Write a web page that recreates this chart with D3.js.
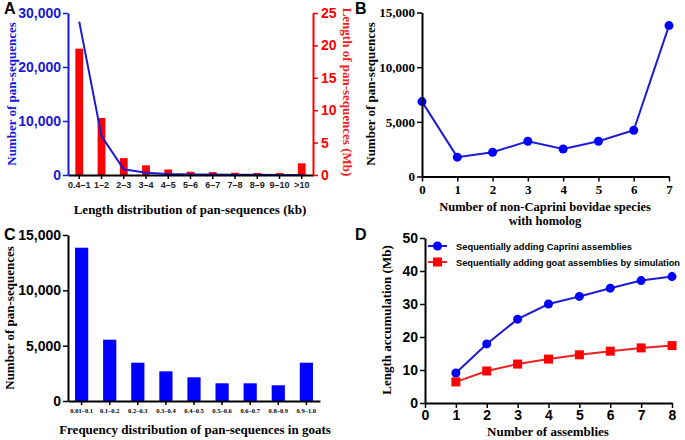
<!DOCTYPE html>
<html>
<head>
<meta charset="utf-8">
<script src="https://cdn.jsdelivr.net/npm/d3@7"></script>
<style>
  body { margin: 0; background: #fff; }
  .sans { font-family: "Liberation Sans", Arial, sans-serif; font-weight: bold; }
  .serif { font-family: "Liberation Serif", "Times New Roman", serif; font-weight: bold; }
</style>
</head>
<body>
<div id="chart"></div>
<script>
// ---- data ----
// panel A
var lenBins = ["0.4–1", "1–2", "2–3", "3–4", "4–5", "5–6", "6–7", "7–8", "8–9", "9–10", ">10"];
var lenCount = [28400, 7200, 1050, 430, 200, 110, 70, 45, 30, 20, 20];
var lenMb = [19.5, 8.8, 2.6, 1.5, 0.85, 0.5, 0.45, 0.35, 0.32, 0.3, 1.8];
// panel B
var speciesN = [0, 1, 2, 3, 4, 5, 6, 7];
var speciesCount = [6850, 1770, 2220, 3220, 2520, 3220, 4230, 13800];
// panel C
var freqBins = ["0.01–0.1", "0.1–0.2", "0.2–0.3", "0.3–0.4", "0.4–0.5", "0.5–0.6", "0.6–0.7", "0.8–0.9", "0.9–1.0"];
var freqCount = [13850, 5540, 3460, 2680, 2140, 1600, 1600, 1420, 3460];
// panel D
var assemblies = [1, 2, 3, 4, 5, 6, 7, 8];
var capriniMb = [9.1, 17.9, 25.4, 30.0, 32.3, 34.8, 37.1, 38.3];
var goatSimMb = [6.4, 9.7, 11.8, 13.3, 14.6, 15.7, 16.7, 17.4];

var blue = "#0000ff", lineBlue = "#1c1cd2", red = "#ff0000";

var svg = d3.select("#chart").append("svg")
    .attr("width", 685)
    .attr("height", 440);

// style an axis group GraphPad-like
function styleAxis(g, color, fontClass, fontSize) {
    g.select(".domain").attr("stroke", color).attr("stroke-width", 2);
    g.selectAll(".tick line").attr("stroke", color).attr("stroke-width", 1.5);
    g.selectAll(".tick text")
        .attr("class", fontClass)
        .attr("fill", color)
        .style("font-size", fontSize + "px");
}

function panelLetter(x, y, t) {
    svg.append("text").attr("class", "sans")
        .attr("x", x).attr("y", y)
        .style("font-size", "16px")
        .text(t);
}

function yTitle(x, y, t, color, size, rot) {
    svg.append("text").attr("class", "serif")
        .attr("transform", "translate(" + x + "," + y + ")rotate(" + (rot || -90) + ")")
        .attr("text-anchor", "middle")
        .attr("fill", color)
        .style("font-size", size + "px")
        .text(t);
}

function xTitle(x, y, t, size) {
    svg.append("text").attr("class", "serif")
        .attr("x", x).attr("y", y)
        .attr("text-anchor", "middle")
        .style("font-size", size + "px")
        .text(t);
}

var fmt = d3.format(",");

// ================= Panel A =================
var aL = 68, aR = 313, aT = 13, aB = 175;
var ax = d3.scaleBand().domain(lenBins).range([aL, aR]).paddingInner(0.65).paddingOuter(0.33);
var ayL = d3.scaleLinear().domain([0, 30000]).range([aB, aT]);
var ayR = d3.scaleLinear().domain([0, 25]).range([aB, aT]);

svg.append("g").selectAll("rect")
    .data(lenMb)
    .join("rect")
    .attr("x", function(d, i) { return ax(lenBins[i]); })
    .attr("width", ax.bandwidth())
    .attr("y", function(d) { return ayR(d); })
    .attr("height", function(d) { return aB - ayR(d); })
    .attr("fill", red);

svg.append("path")
    .datum(lenCount)
    .attr("fill", "none")
    .attr("stroke", lineBlue)
    .attr("stroke-width", 2)
    .attr("d", d3.line()
        .x(function(d, i) { return ax(lenBins[i]) + ax.bandwidth() / 2; })
        .y(function(d) { return ayL(d); }));

var gax = svg.append("g").attr("transform", "translate(0," + aB + ")")
    .call(d3.axisBottom(ax).tickSize(4).tickSizeOuter(0).tickPadding(3));
styleAxis(gax, "#000", "sans", 9);
gax.selectAll(".tick text").attr("fill", "#222");

var gayL = svg.append("g").attr("transform", "translate(" + aL + ",0)")
    .call(d3.axisLeft(ayL).tickValues([0, 10000, 20000, 30000]).tickFormat(fmt).tickSize(5).tickSizeOuter(0).tickPadding(2));
styleAxis(gayL, "#1818d8", "sans", 14);

var gayR = svg.append("g").attr("transform", "translate(" + aR + ",0)")
    .call(d3.axisRight(ayR).tickValues([0, 5, 10, 15, 20, 25]).tickSize(5).tickSizeOuter(0).tickPadding(3));
styleAxis(gayR, red, "sans", 14);

panelLetter(4, 14, "A");
yTitle(16, 94, "Number of pan-sequences", "#1818d8", 13);
yTitle(343, 92, "Length of pan-sequences (Mb)", "#ee2020", 13, 90);
xTitle(190, 214, "Length distribution of pan-sequences (kb)", 13);

// ================= Panel B =================
var bL = 422, bR = 669, bT = 12.5, bB = 176.5;
var bx = d3.scaleLinear().domain([0, 7]).range([bL, bR]);
var by = d3.scaleLinear().domain([0, 15000]).range([bB, bT]);

svg.append("path")
    .datum(speciesCount)
    .attr("fill", "none")
    .attr("stroke", lineBlue)
    .attr("stroke-width", 2)
    .attr("d", d3.line()
        .x(function(d, i) { return bx(speciesN[i]); })
        .y(function(d) { return by(d); }));

svg.append("g").selectAll("circle")
    .data(speciesCount)
    .join("circle")
    .attr("cx", function(d, i) { return bx(speciesN[i]); })
    .attr("cy", function(d) { return by(d); })
    .attr("r", 4.5)
    .attr("fill", blue);

var gbx = svg.append("g").attr("transform", "translate(0," + bB + ")")
    .call(d3.axisBottom(bx).tickValues(speciesN).tickFormat(d3.format("d")).tickSize(5).tickSizeOuter(0).tickPadding(3));
styleAxis(gbx, "#000", "serif", 13);

var gby = svg.append("g").attr("transform", "translate(" + bL + ",0)")
    .call(d3.axisLeft(by).tickValues([0, 5000, 10000, 15000]).tickFormat(fmt).tickSize(5).tickSizeOuter(0).tickPadding(2));
styleAxis(gby, "#000", "serif", 13);

panelLetter(355, 14, "B");
yTitle(375, 94, "Number of pan-sequences", "#000", 13);
xTitle(545, 211, "Number of non-Caprini bovidae species", 12.5);
xTitle(545, 225, "with homolog", 12.5);

// ================= Panel C =================
var cL = 68, cR = 320, cT = 235, cB = 401;
var cx = d3.scaleBand().domain(freqBins).range([cL, cR]).paddingInner(0.53).paddingOuter(0.25);
var cy = d3.scaleLinear().domain([0, 15000]).range([cB, cT]);

svg.append("g").selectAll("rect")
    .data(freqCount)
    .join("rect")
    .attr("x", function(d, i) { return cx(freqBins[i]); })
    .attr("width", cx.bandwidth())
    .attr("y", function(d) { return cy(d); })
    .attr("height", function(d) { return cB - cy(d); })
    .attr("fill", blue);

var gcx = svg.append("g").attr("transform", "translate(0," + cB + ")")
    .call(d3.axisBottom(cx).tickSize(4).tickSizeOuter(0).tickPadding(3));
styleAxis(gcx, "#000", "serif", 6.5);

var gcy = svg.append("g").attr("transform", "translate(" + cL + ",0)")
    .call(d3.axisLeft(cy).tickValues([0, 5000, 10000, 15000]).tickFormat(fmt).tickSize(5).tickSizeOuter(0).tickPadding(2));
styleAxis(gcy, "#000", "sans", 14);

panelLetter(4, 240, "C");
yTitle(14, 318, "Number of pan-sequences", "#000", 13);
xTitle(195, 434, "Frequency distribution of pan-sequences in goats", 13);

// ================= Panel D =================
var dL = 425, dR = 672, dT = 238, dB = 403;
var dx = d3.scaleLinear().domain([0, 8]).range([dL, dR]);
var dy = d3.scaleLinear().domain([0, 50]).range([dB, dT]);

var dLine = d3.line()
    .x(function(d, i) { return dx(assemblies[i]); })
    .y(function(d) { return dy(d); });

svg.append("path").datum(capriniMb)
    .attr("fill", "none").attr("stroke", lineBlue).attr("stroke-width", 2)
    .attr("d", dLine);
svg.append("g").selectAll("circle")
    .data(capriniMb)
    .join("circle")
    .attr("cx", function(d, i) { return dx(assemblies[i]); })
    .attr("cy", function(d) { return dy(d); })
    .attr("r", 4.5)
    .attr("fill", blue);

svg.append("path").datum(goatSimMb)
    .attr("fill", "none").attr("stroke", "#f02020").attr("stroke-width", 2)
    .attr("d", dLine);
svg.append("g").selectAll("rect")
    .data(goatSimMb)
    .join("rect")
    .attr("x", function(d, i) { return dx(assemblies[i]) - 4.5; })
    .attr("y", function(d) { return dy(d) - 4.5; })
    .attr("width", 9)
    .attr("height", 9)
    .attr("fill", red);

var gdx = svg.append("g").attr("transform", "translate(0," + dB + ")")
    .call(d3.axisBottom(dx).tickValues([0, 1, 2, 3, 4, 5, 6, 7, 8]).tickSize(5).tickSizeOuter(0).tickPadding(2));
styleAxis(gdx, "#000", "sans", 14);

var gdy = svg.append("g").attr("transform", "translate(" + dL + ",0)")
    .call(d3.axisLeft(dy).tickValues([0, 10, 20, 30, 40, 50]).tickSize(5).tickSizeOuter(0).tickPadding(2));
styleAxis(gdy, "#000", "sans", 14);

// legend
var legend = svg.append("g");
legend.append("line").attr("x1", 428).attr("x2", 447).attr("y1", 246).attr("y2", 246)
    .attr("stroke", lineBlue).attr("stroke-width", 2);
legend.append("circle").attr("cx", 437.5).attr("cy", 246).attr("r", 4.5).attr("fill", blue);
legend.append("text").attr("class", "sans").attr("x", 456).attr("y", 249.5)
    .style("font-size", "9.5px")
    .attr("textLength", 176).attr("lengthAdjust", "spacingAndGlyphs")
    .text("Sequentially adding Caprini assemblies");
legend.append("line").attr("x1", 428).attr("x2", 447).attr("y1", 262).attr("y2", 262)
    .attr("stroke", "#f02020").attr("stroke-width", 2);
legend.append("rect").attr("x", 433).attr("y", 257.5).attr("width", 9).attr("height", 9).attr("fill", red);
legend.append("text").attr("class", "sans").attr("x", 456).attr("y", 265.5)
    .style("font-size", "9.5px")
    .attr("textLength", 224).attr("lengthAdjust", "spacingAndGlyphs")
    .text("Sequentially adding goat assemblies by simulation");

panelLetter(355, 240, "D");
yTitle(391, 320, "Length accumulation (Mb)", "#000", 13);
xTitle(548, 436, "Number of assemblies", 13);
</script>
</body>
</html>
